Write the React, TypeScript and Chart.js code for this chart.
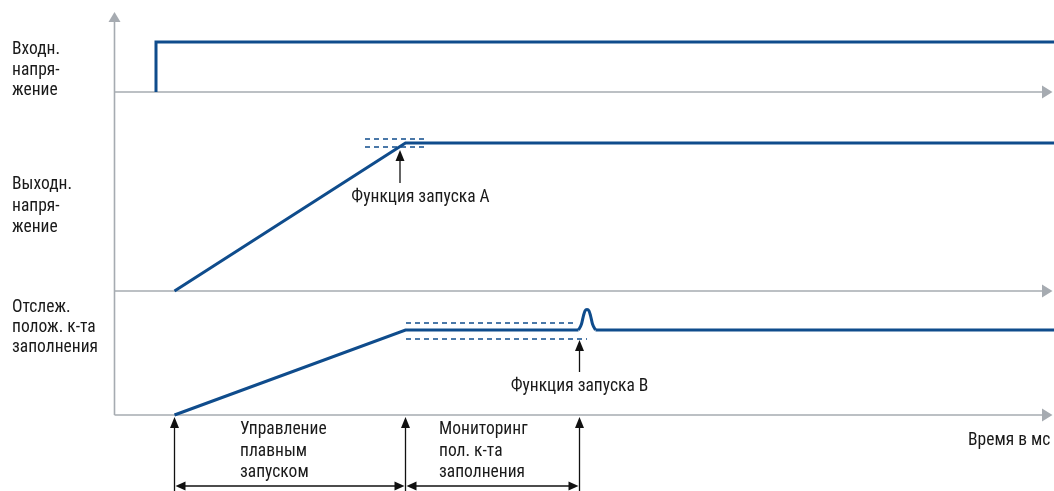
import React, { useEffect, useRef } from "react";
import { Chart, registerables } from "chart.js";

Chart.register(...registerables);

// ---- data (time in ms-like units, levels normalised 0..1 per trace) ----
const inputTimes = [8.3, 8.3, 188];
const inputLevels = [0, 1, 1];

const outputTimes = [12, 58.2, 188];
const outputLevels = [0, 1, 1];

const dutyTimes = [12, 58.2, 92.8];
const dutyLevels = [0, 1, 1];
const bumpTimes = [92.8, 93.4, 93.8, 94.1, 94.5, 94.9, 95.2, 95.6, 96.2];
const bumpLevels = [1, 1.07, 1.17, 1.225, 1.24, 1.225, 1.17, 1.07, 1];
const dutyTailTimes = [96.2, 188];
const dutyTailLevels = [1, 1];

const refATimes = [50.1, 62.3];
const refAUpper = 1.027;
const refALower = 0.973;
const refBUpperTimes = [58.3, 92.5];
const refBLowerTimes = [58.3, 94.5];
const refBUpper = 1.082;
const refBLower = 0.894;

const phaseTimes = [12, 58.2, 93];
const triggerTimes = [57.1, 93];

const rowLabels = [
  ["Входн.", "напря-", "жение"],
  ["Выходн.", "напря-", "жение"],
  ["Отслеж.", "полож. к-та", "заполнения"],
];
const phaseLabels = [
  ["Управление", "плавным", "запуском"],
  ["Мониторинг", "пол. к-та", "заполнения"],
];
const triggerLabels = ["Функция запуска А", "Функция запуска В"];
const timeAxisLabel = "Время в мс";

// ---- layout (y units: px from the bottom of the 491 px canvas) ----
const panels = [
  { base: 399, height: 50 },
  { base: 200, height: 148 },
  { base: 76, height: 85 },
];
const axisEnd = 185.5;
const axisTip = 187.6;
const vAxisTop = 469;
const vAxisTip = 479;
const rowLabelY = [
  [441, 420, 400],
  [306, 284, 263],
  [183, 163, 143],
];
const triggerArrow = [
  { tip: 341, bottom: 308, textY: 293, textX: 61.2 },
  { tip: 151, bottom: 119, textY: 104, textX: 93 },
];
const phaseArrowTip = 74;
const phaseArrowBottom = 0;
const phaseLineY = 5;
const phaseLabelX = [25.1, 64.9];
const phaseLabelY = [61, 39, 18];
const timeLabelPos = { x: 170.7, y: 50 };

const BLUE = "#0f4c8c";
const GRAY = "#a6abb1";
const BLACK = "#111111";
const FONT = '"Liberation Sans Narrow", "Roboto Condensed", "Arial Narrow", "Liberation Sans", sans-serif';
const FONT_SIZE = 17.5;

const pts = (times: number[], levels: number[], p: { base: number; height: number }) =>
  times.map((t, i) => ({ x: t, y: p.base + levels[i] * p.height }));

function head(ctx: CanvasRenderingContext2D, x: number, y: number, ang: number, len: number, hw: number, color: string) {
  ctx.save();
  ctx.translate(x, y);
  ctx.rotate(ang);
  ctx.beginPath();
  ctx.moveTo(0, 0);
  ctx.lineTo(-len, -hw);
  ctx.lineTo(-len, hw);
  ctx.closePath();
  ctx.fillStyle = color;
  ctx.fill();
  ctx.restore();
}

const annotations = {
  id: "diagramAnnotations",
  afterDatasetsDraw(chart: any) {
    const ctx: CanvasRenderingContext2D = chart.ctx;
    const xs = chart.scales.x;
    const ys = chart.scales.y;
    const X = (v: number) => xs.getPixelForValue(v);
    const Y = (v: number) => ys.getPixelForValue(v);
    ctx.save();
    // gray axis arrowheads
    head(ctx, X(0), Y(vAxisTip), -Math.PI / 2, Y(vAxisTop) - Y(vAxisTip), 6, GRAY);
    panels.forEach((p) => {
      head(ctx, X(axisTip), Y(p.base), 0, X(axisTip) - X(axisEnd), 6.5, GRAY);
    });

    // black arrows
    ctx.strokeStyle = BLACK;
    ctx.lineWidth = 1.3;
    triggerTimes.forEach((t, i) => {
      const a = triggerArrow[i];
      ctx.beginPath();
      ctx.moveTo(X(t), Y(a.bottom));
      ctx.lineTo(X(t), Y(a.tip) + 8);
      ctx.stroke();
      head(ctx, X(t), Y(a.tip), -Math.PI / 2, 11, 4.5, BLACK);
    });
    phaseTimes.forEach((t) => {
      ctx.beginPath();
      ctx.moveTo(X(t), Y(phaseArrowBottom));
      ctx.lineTo(X(t), Y(phaseArrowTip) + 8);
      ctx.stroke();
      head(ctx, X(t), Y(phaseArrowTip), -Math.PI / 2, 11, 4.5, BLACK);
    });
    for (let i = 0; i < phaseTimes.length - 1; i++) {
      const a = X(phaseTimes[i]);
      const b = X(phaseTimes[i + 1]);
      const y = Y(phaseLineY);
      ctx.beginPath();
      ctx.moveTo(a + 6, y);
      ctx.lineTo(b - 6, y);
      ctx.stroke();
      head(ctx, a + 1, y, Math.PI, 10, 4.5, BLACK);
      head(ctx, b - 1, y, 0, 10, 4.5, BLACK);
    }

    // texts
    ctx.fillStyle = "#1a1a1a";
    ctx.font = `${FONT_SIZE}px ${FONT}`;
    ctx.textBaseline = "middle";
    ctx.textAlign = "left";
    rowLabels.forEach((lines, i) => {
      lines.forEach((s, j) => ctx.fillText(s, chart.chartArea.left + 12, Y(rowLabelY[i][j])));
    });
    phaseLabels.forEach((lines, i) => {
      lines.forEach((s, j) => ctx.fillText(s, X(phaseLabelX[i]), Y(phaseLabelY[j])));
    });
    ctx.fillText(timeAxisLabel, X(timeLabelPos.x), Y(timeLabelPos.y));
    ctx.textAlign = "center";
    triggerLabels.forEach((s, i) => {
      ctx.fillText(s, X(triggerArrow[i].textX), Y(triggerArrow[i].textY));
    });
    ctx.restore();
  },
};

export default function App() {
  const ref = useRef<HTMLCanvasElement>(null);
  useEffect(() => {
    if (!ref.current) return;
    const sig = (data: any[], extra: any = {}) => ({
      data,
      borderColor: BLUE,
      borderWidth: 3,
      pointRadius: 0,
      tension: 0,
      fill: false,
      clip: false,
      order: 0,
      borderJoinStyle: "miter",
      ...extra,
    });
    const dash = (data: any[]) => sig(data, { borderWidth: 1.5, borderDash: [5, 4] });
    const axis = (data: any[]) => ({
      data,
      borderColor: GRAY,
      borderWidth: 1.6,
      pointRadius: 0,
      fill: false,
      clip: false,
      order: 10,
    });
    const datasets: any[] = [
      axis([{ x: 0, y: panels[2].base }, { x: 0, y: vAxisTop }]),
      ...panels.map((p) => axis([{ x: 0, y: p.base }, { x: axisEnd, y: p.base }])),
      sig(pts(inputTimes, inputLevels, panels[0])),
      sig(pts(outputTimes, outputLevels, panels[1])),
      sig(pts(dutyTimes, dutyLevels, panels[2])),
      sig(pts(bumpTimes, bumpLevels, panels[2]), { cubicInterpolationMode: "monotone", borderJoinStyle: "round" }),
      sig(pts(dutyTailTimes, dutyTailLevels, panels[2])),
      dash(pts(refATimes, [refAUpper, refAUpper], panels[1])),
      dash(pts(refATimes, [refALower, refALower], panels[1])),
      dash(pts(refBUpperTimes, [refBUpper, refBUpper], panels[2])),
      dash(pts(refBLowerTimes, [refBLower, refBLower], panels[2])),
    ];
    const chart = new Chart(ref.current, {
      type: "line",
      data: { datasets },
      options: {
        animation: false,
        responsive: true,
        maintainAspectRatio: false,
        layout: { padding: 0 },
        plugins: { legend: { display: false }, tooltip: { enabled: false } },
        scales: {
          x: { type: "linear", min: -22.9, max: 187.9, display: false },
          y: { type: "linear", min: 0, max: 491, display: false },
        },
      },
      plugins: [annotations],
    } as any);
    return () => chart.destroy();
  }, []);
  return (
    <div style={{ position: "absolute", left: 0, top: 0, width: 1054, height: 491, background: "#fff" }}>
      <canvas ref={ref} />
    </div>
  );
}
